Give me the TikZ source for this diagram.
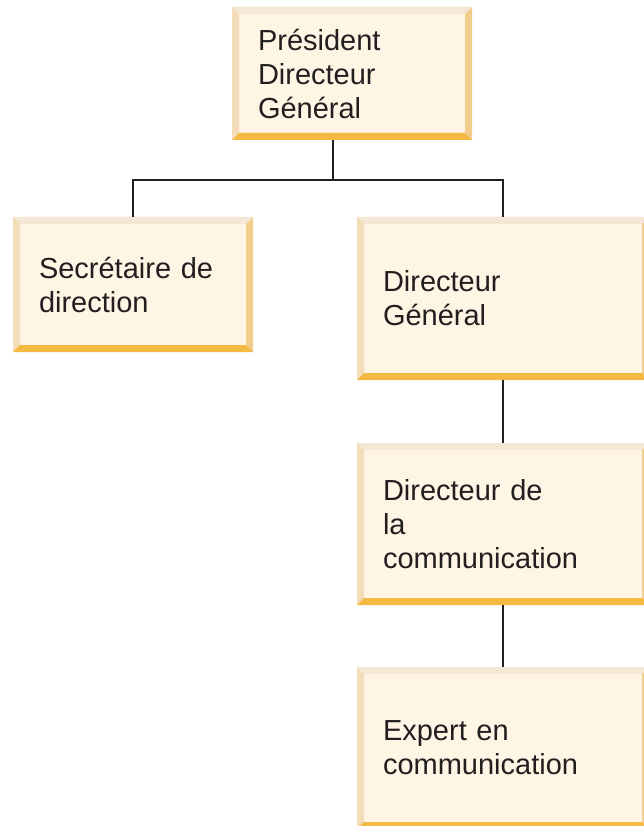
\documentclass[tikz,border=0pt]{standalone}
\usepackage{fontspec}
\setmainfont{Liberation Sans}
\definecolor{face}{HTML}{FEF5E4}
\definecolor{bevtop}{HTML}{F5E7D5}
\definecolor{bevleft}{HTML}{F3DDB9}
\definecolor{bevright}{HTML}{F2CE8C}
\definecolor{bevbottom}{HTML}{F4B942}
\definecolor{ink}{HTML}{231F20}
\tikzset{
  orgbox/.style={rectangle, fill=face, inner xsep=26pt, inner ysep=0pt,
    align=left, text=ink, font=\fontsize{29}{34}\selectfont,
    path picture={
      \fill[bevtop] (path picture bounding box.north west) -- (path picture bounding box.north east)
        -- ([shift={(-7pt,-7pt)}]path picture bounding box.north east)
        -- ([shift={(7pt,-7pt)}]path picture bounding box.north west) -- cycle;
      \fill[bevleft] (path picture bounding box.north west) -- (path picture bounding box.south west)
        -- ([shift={(7pt,7pt)}]path picture bounding box.south west)
        -- ([shift={(7pt,-7pt)}]path picture bounding box.north west) -- cycle;
      \fill[bevright] (path picture bounding box.north east) -- (path picture bounding box.south east)
        -- ([shift={(-7pt,7pt)}]path picture bounding box.south east)
        -- ([shift={(-7pt,-7pt)}]path picture bounding box.north east) -- cycle;
      \fill[bevbottom] (path picture bounding box.south west) -- (path picture bounding box.south east)
        -- ([shift={(-7pt,7pt)}]path picture bounding box.south east)
        -- ([shift={(7pt,7pt)}]path picture bounding box.south west) -- cycle;
    }},
  narrow/.style={minimum width=240pt, text width=188pt},
  wide/.style={minimum width=292pt, text width=240pt},
  wire/.style={draw=ink, line width=1.4pt}
}
\begin{document}
\begin{tikzpicture}[x=1pt, y=-1pt]
  \useasboundingbox (0,0) rectangle (644,826);
  \fill[white] (0,0) rectangle (644,826);

  % boxes
  \node[orgbox, narrow, minimum height=133pt] (pdg) at (352,73.5)
    {Président\\Directeur\\Général};
  \node[orgbox, narrow, minimum height=135pt] (sec) at (133,284.5)
    {Secrétaire de\\direction};
  \node[orgbox, wide, minimum height=163pt] (dg) at (503,298.5)
    {Directeur\\Général};
  \node[orgbox, wide, minimum height=162pt] (dcom) at (503,524)
    {Directeur de\\la\\communication};
  \node[orgbox, wide, minimum height=162pt] (exp) at (503,748)
    {Expert en\\communication};

  % connectors
  \coordinate (bus) at (333,180);
  \draw[wire] (pdg.south -| bus) -- (bus);
  \draw[wire] (sec.north) |- (bus) -| (dg.north);
  \draw[wire] (dg.south) -- (dcom.north);
  \draw[wire] (dcom.south) -- (exp.north);
\end{tikzpicture}
\end{document}
